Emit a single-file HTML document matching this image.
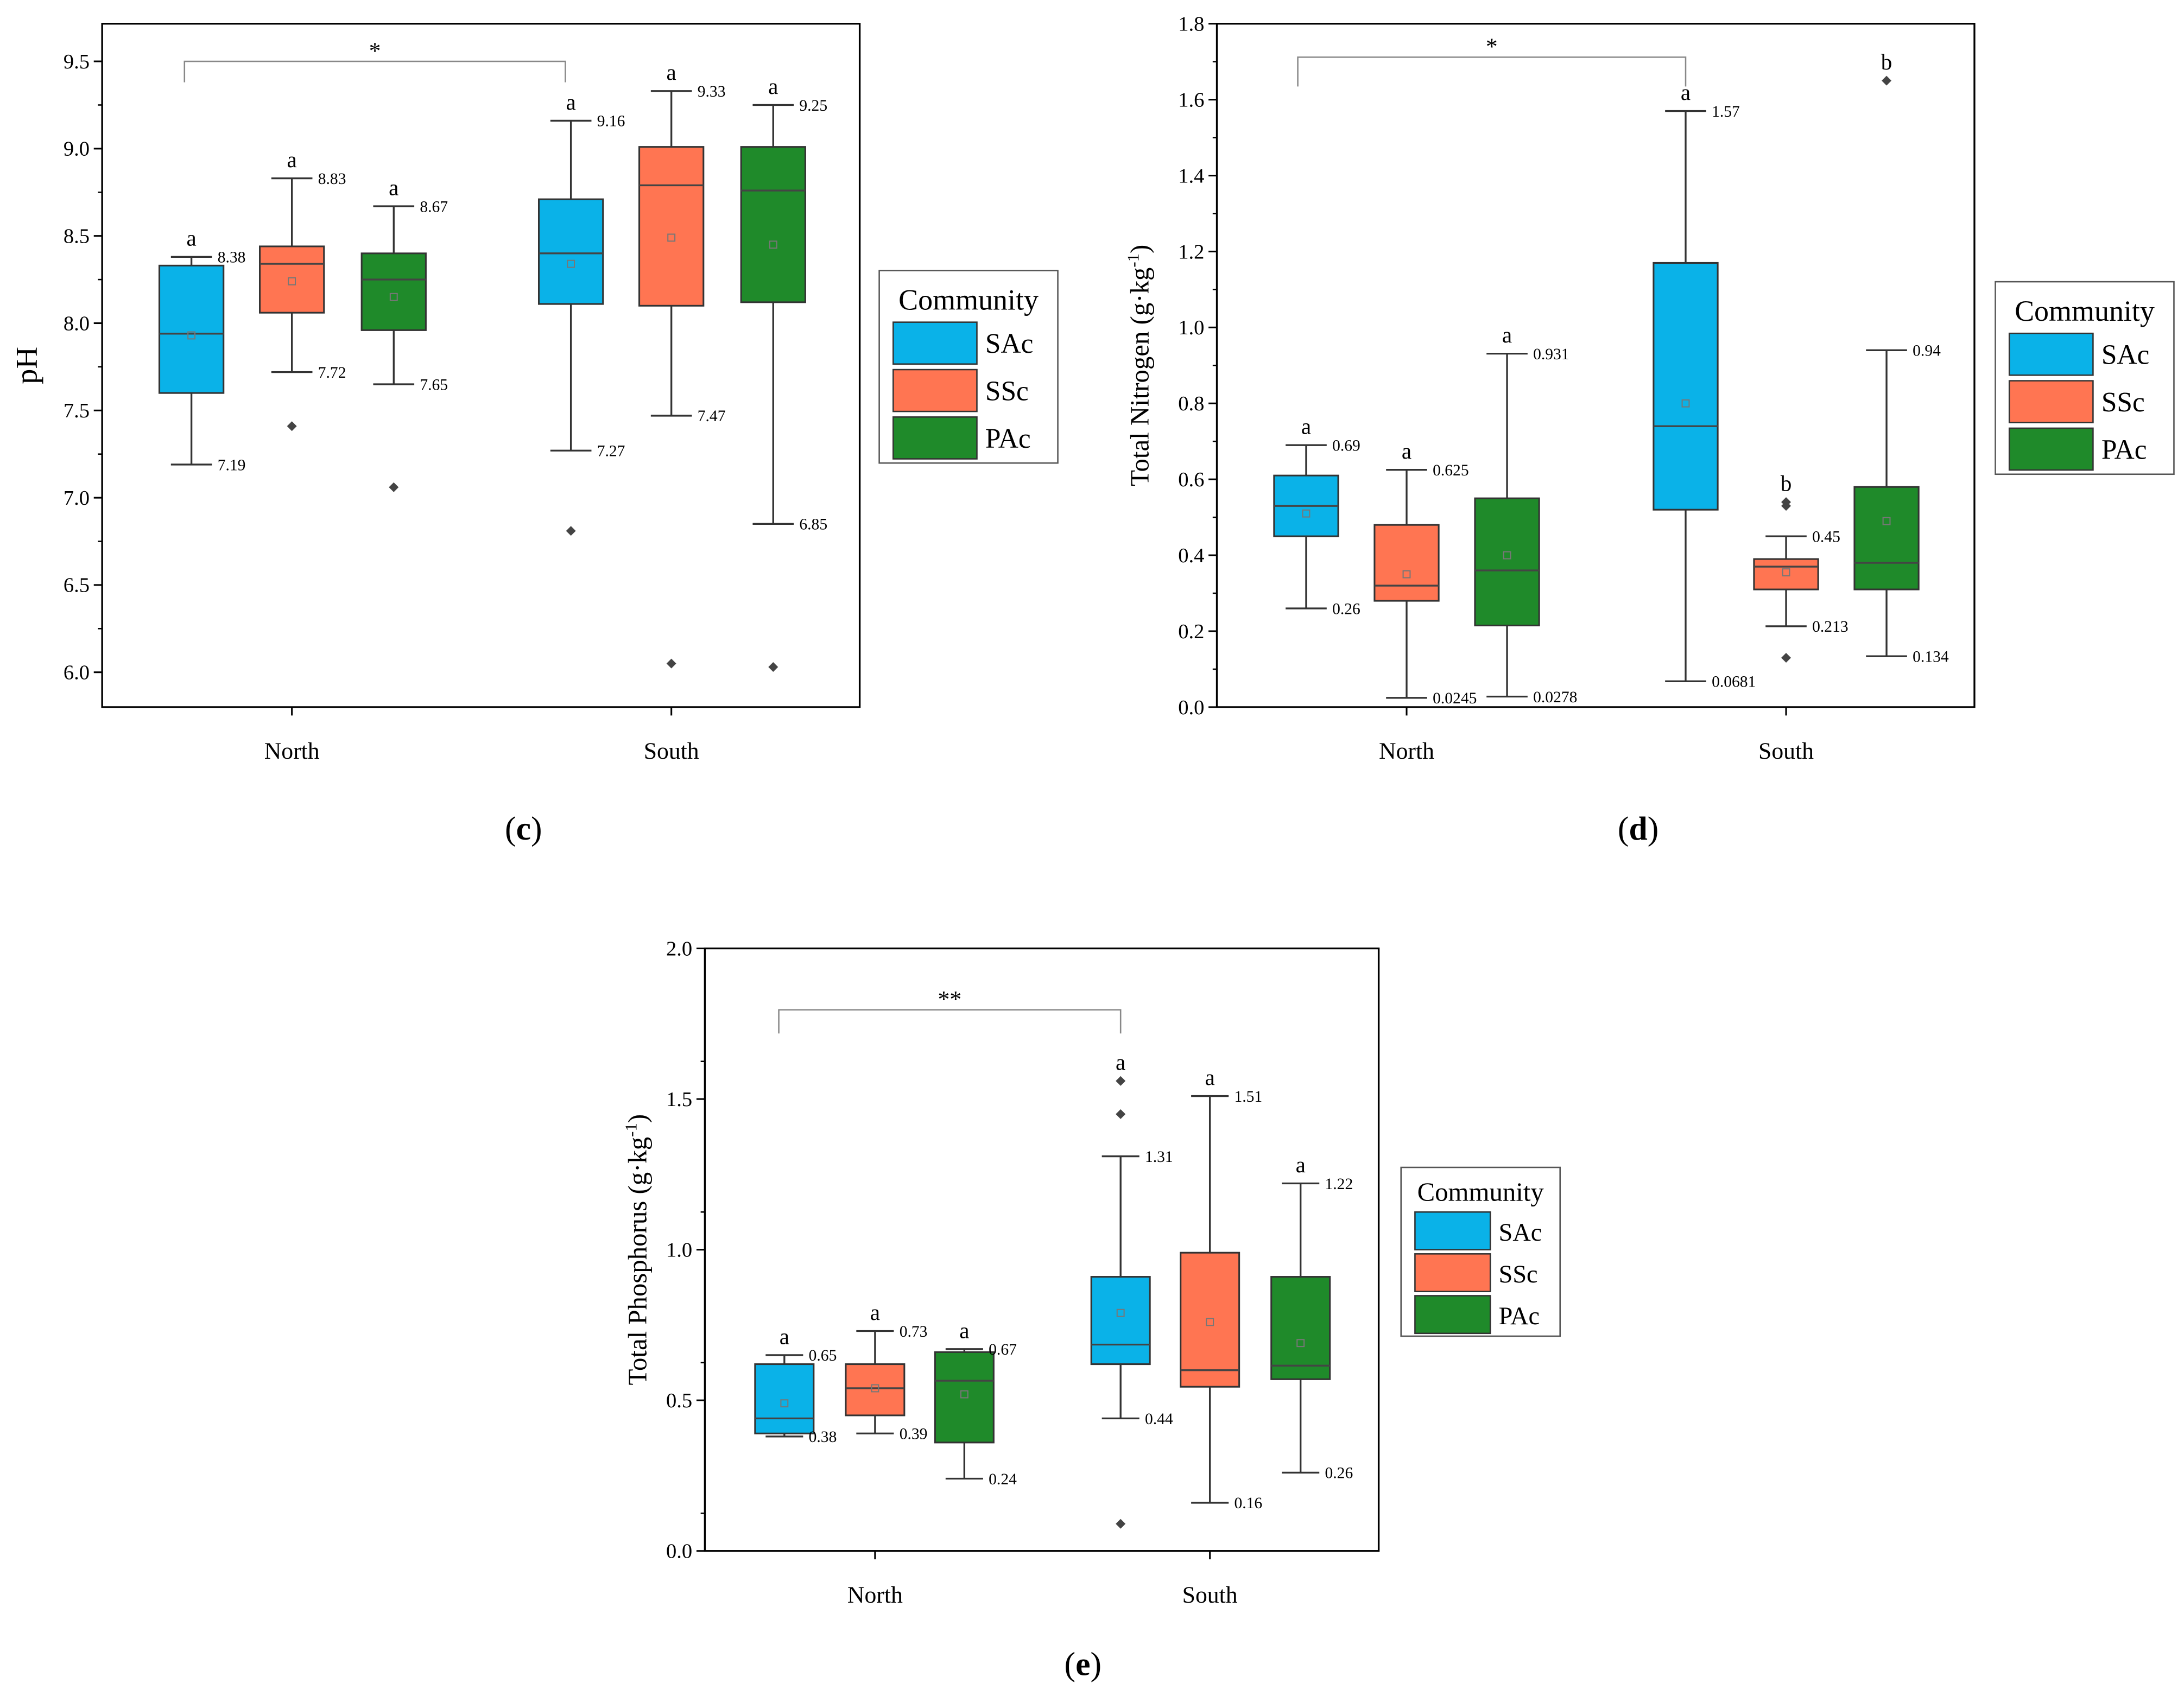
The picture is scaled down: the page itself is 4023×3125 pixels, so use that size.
<!DOCTYPE html>
<html><head><meta charset="utf-8">
<style>
html,body{margin:0;padding:0;background:#fff;}
svg{display:block;font-family:"Liberation Serif",serif;}
</style></head>
<body>
<svg id="root" width="4023" height="3125" viewBox="0 0 1565 1216" xmlns="http://www.w3.org/2000/svg">
<rect width="1565" height="1216" fill="#fff"/>
</svg>
<script>
const groups = ["North","South"];
const communities = ["SAc","SSc","PAc"];
const colors = ["#0AB2E8","#FF7552","#1F8A2A"];

// Panel c: pH  [NorthSAc, NorthSSc, NorthPAc, SouthSAc, SouthSSc, SouthPAc]
const phWhiskLow = [7.19,7.72,7.65,7.27,7.47,6.85];
const phQ1 = [7.60,8.06,7.96,8.11,8.10,8.12];
const phMedian = [7.94,8.34,8.25,8.40,8.79,8.76];
const phQ3 = [8.33,8.44,8.40,8.71,9.01,9.01];
const phWhiskHigh = [8.38,8.83,8.67,9.16,9.33,9.25];
const phMean = [7.93,8.24,8.15,8.34,8.49,8.45];
const phOutliers = [[],[7.41],[7.06],[6.81],[6.05],[6.03]];
const phLowLabels = ["7.19","7.72","7.65","7.27","7.47","6.85"];
const phHighLabels = ["8.38","8.83","8.67","9.16","9.33","9.25"];
const phLetters = ["a","a","a","a","a","a"];
const phTicks = ["6.0","6.5","7.0","7.5","8.0","8.5","9.0","9.5"];

// Panel d: Total Nitrogen
const tnWhiskLow = [0.26,0.0245,0.0278,0.0681,0.213,0.134];
const tnQ1 = [0.45,0.28,0.215,0.52,0.31,0.31];
const tnMedian = [0.53,0.32,0.36,0.74,0.37,0.38];
const tnQ3 = [0.61,0.48,0.55,1.17,0.39,0.58];
const tnWhiskHigh = [0.69,0.625,0.931,1.57,0.45,0.94];
const tnMean = [0.51,0.35,0.40,0.80,0.355,0.49];
const tnOutliers = [[],[],[],[],[0.13,0.53,0.54],[1.65]];
const tnLowLabels = ["0.26","0.0245","0.0278","0.0681","0.213","0.134"];
const tnHighLabels = ["0.69","0.625","0.931","1.57","0.45","0.94"];
const tnLetters = ["a","a","a","a","b","b"];
const tnTicks = ["0.0","0.2","0.4","0.6","0.8","1.0","1.2","1.4","1.6","1.8"];

// Panel e: Total Phosphorus
const tpWhiskLow = [0.38,0.39,0.24,0.44,0.16,0.26];
const tpQ1 = [0.39,0.45,0.36,0.62,0.545,0.57];
const tpMedian = [0.44,0.54,0.565,0.685,0.60,0.615];
const tpQ3 = [0.62,0.62,0.66,0.91,0.99,0.91];
const tpWhiskHigh = [0.65,0.73,0.67,1.31,1.51,1.22];
const tpMean = [0.49,0.54,0.52,0.79,0.76,0.69];
const tpOutliers = [[],[],[],[1.45,1.56,0.09],[],[]];
const tpLowLabels = ["0.38","0.39","0.24","0.44","0.16","0.26"];
const tpHighLabels = ["0.65","0.73","0.67","1.31","1.51","1.22"];
const tpLetters = ["a","a","a","a","a","a"];
const tpTicks = ["0.0","0.5","1.0","1.5","2.0"];

const NS="http://www.w3.org/2000/svg";
const root=document.getElementById('root');
function el(tag,attrs,parent,text){
  const e=document.createElementNS(NS,tag);
  for(const k in attrs) e.setAttribute(k,attrs[k]);
  if(text!==undefined) e.textContent=text;
  (parent||root).appendChild(e);
  return e;
}

function panel(cfg){
  const g=el('g',{});
  
  
  const y=v=>cfg.ya+(v-cfg.vmin)/(cfg.vmax-cfg.vmin)*(cfg.yb-cfg.ya);
  const fr=el('rect',{x:cfg.x0,y:cfg.fy1,width:cfg.x1-cfg.x0,height:cfg.fy0-cfg.fy1,fill:'none',stroke:'#000','stroke-width':1.3},g);
  
  
  cfg.ticks.forEach((t,i)=>{
    const v=parseFloat(t), yy=y(v);
    el('line',{x1:cfg.x0-6,x2:cfg.x0,y1:yy,y2:yy,stroke:'#000','stroke-width':1.2},g);
    const tl=el('text',{x:cfg.x0-9,y:yy+5,'text-anchor':'end','font-size':15},g,t);
    
    
    if(i<cfg.ticks.length-1){
      const ym=y(v+cfg.step/2);
      el('line',{x1:cfg.x0-3,x2:cfg.x0,y1:ym,y2:ym,stroke:'#000','stroke-width':1},g);
    }
  });
  groups.forEach((gn,gi)=>{
    const xc=cfg.groupX[gi];
    el('line',{x1:xc,x2:xc,y1:cfg.fy0,y2:cfg.fy0+6,stroke:'#000','stroke-width':1.2},g);
    const xl=el('text',{x:xc,y:cfg.fy0+37,'text-anchor':'middle','font-size':17},g,gn);
    
    
  });
  const yt=el('text',{x:cfg.ytx,y:cfg.yty,'text-anchor':'middle','font-size':cfg.ytfs||19,transform:`rotate(-90 ${cfg.ytx} ${cfg.yty})`},g);
  yt.innerHTML=cfg.ytitle;
  
  
  const d=cfg.data;
  for(let i=0;i<6;i++){
    const xc=cfg.boxX[i], w=cfg.bw, c=colors[i%3];
    const bg=el('g',{},g);
    
    
    const cap=w*0.32;
    el('line',{x1:xc,x2:xc,y1:y(d.wl[i]),y2:y(d.q1[i]),stroke:'#333','stroke-width':1.3},bg);
    el('line',{x1:xc,x2:xc,y1:y(d.q3[i]),y2:y(d.wh[i]),stroke:'#333','stroke-width':1.3},bg);
    el('line',{x1:xc-cap,x2:xc+cap,y1:y(d.wl[i]),y2:y(d.wl[i]),stroke:'#333','stroke-width':1.3},bg);
    el('line',{x1:xc-cap,x2:xc+cap,y1:y(d.wh[i]),y2:y(d.wh[i]),stroke:'#333','stroke-width':1.3},bg);
    el('rect',{x:xc-w/2,y:y(d.q3[i]),width:w,height:y(d.q1[i])-y(d.q3[i]),fill:c,stroke:'#333','stroke-width':1.2},bg);
    el('line',{x1:xc-w/2,x2:xc+w/2,y1:y(d.med[i]),y2:y(d.med[i]),stroke:'#444','stroke-width':1.3},bg);
    el('rect',{x:xc-2.5,y:y(d.mean[i])-2.5,width:5,height:5,fill:'none',stroke:'#777','stroke-width':0.8},bg);
    d.out[i].forEach(o=>{
      const yy=y(o);
      el('path',{d:`M${xc} ${yy-3.5}L${xc+3.5} ${yy}L${xc} ${yy+3.5}L${xc-3.5} ${yy}Z`,fill:'#444'},bg);
    });
    el('text',{x:xc+cap+4,y:y(d.wh[i])+4,'font-size':11.5},bg,d.hl[i]);
    el('text',{x:xc+cap+4,y:y(d.wl[i])+4,'font-size':11.5},bg,d.ll[i]);
    const topv=Math.max(d.wh[i],...(d.out[i].length?d.out[i]:[-1e9]));
    el('text',{x:xc,y:y(topv)-8,'text-anchor':'middle','font-size':16},bg,d.let[i]);
  }
  const br=el('path',{d:`M${cfg.br[0]} ${cfg.br[2]+cfg.br[3]}V${cfg.br[2]}H${cfg.br[1]}V${cfg.br[2]+cfg.br[3]}`,fill:'none',stroke:'#888','stroke-width':1},g);
  
  
  const st=el('text',{x:(cfg.br[0]+cfg.br[1])/2,y:cfg.br[2]-2,'text-anchor':'middle','font-size':17},g,cfg.star);
  
  
  const L=cfg.leg;
  const lg=el('g',{},g);
  
  
  el('rect',{x:L.x,y:L.y,width:L.w,height:L.h,fill:'#fff',stroke:'#555','stroke-width':1},lg);
  el('text',{x:L.x+L.w/2,y:L.y+L.ty,'text-anchor':'middle','font-size':L.fs},lg,'Community');
  communities.forEach((c,i)=>{
    const ey=L.y+L.ey0+i*L.es;
    const le=el('g',{},lg);
    
    
    el('rect',{x:L.x+10,y:ey,width:L.sw,height:L.sh,fill:colors[i],stroke:'#333','stroke-width':1},le);
    el('text',{x:L.x+16+L.sw,y:ey+L.sh/2+7,'font-size':L.fs-1},le,c);
  });
  const cp=el('text',{x:cfg.cap[0],y:cfg.cap[1],'text-anchor':'middle','font-size':24},g);
  cp.innerHTML='(<tspan font-weight="bold">'+cfg.capL+'</tspan>)';
  
  
}

panel({name:'panel-c-ph',x0:73,x1:616,fy0:507,fy1:17,ya:482,yb:44,vmin:6.0,vmax:9.5,step:0.5,ticks:phTicks,
  data:{wl:phWhiskLow,q1:phQ1,med:phMedian,q3:phQ3,wh:phWhiskHigh,mean:phMean,out:phOutliers,ll:phLowLabels,hl:phHighLabels,let:phLetters},
  groupX:[209,481],boxX:[137,209,282,409,481,554],bw:46,ytx:26,yty:262,ytfs:22,ytitle:'pH',
  br:[132,405,44,15],star:'*',leg:{x:630,y:194,w:128,h:138,ty:28,ey0:37,es:34,sw:60,sh:30,fs:21},cap:[375,602],capL:'c'});
panel({name:'panel-d-nitrogen',x0:872,x1:1415,fy0:507,fy1:17,ya:507,yb:17,vmin:0,vmax:1.8,step:0.2,ticks:tnTicks,
  data:{wl:tnWhiskLow,q1:tnQ1,med:tnMedian,q3:tnQ3,wh:tnWhiskHigh,mean:tnMean,out:tnOutliers,ll:tnLowLabels,hl:tnHighLabels,let:tnLetters},
  groupX:[1008,1280],boxX:[936,1008,1080,1208,1280,1352],bw:46,ytx:823,yty:262,ytitle:'Total Nitrogen (g·kg<tspan dy="-7" font-size="12">-1</tspan><tspan dy="7">)</tspan>',
  br:[930,1208,41,21],star:'*',leg:{x:1430,y:202,w:128,h:138,ty:28,ey0:37,es:34,sw:60,sh:30,fs:21},cap:[1174,602],capL:'d'});
panel({name:'panel-e-phosphorus',x0:505,x1:988,fy0:1112,fy1:680,ya:1112,yb:680,vmin:0,vmax:2.0,step:0.25,ticks:tpTicks,
  data:{wl:tpWhiskLow,q1:tpQ1,med:tpMedian,q3:tpQ3,wh:tpWhiskHigh,mean:tpMean,out:tpOutliers,ll:tpLowLabels,hl:tpHighLabels,let:tpLetters},
  groupX:[627,867],boxX:[562,627,691,803,867,932],bw:42,ytx:463,yty:896,ytitle:'Total Phosphorus (g·kg<tspan dy="-7" font-size="12">-1</tspan><tspan dy="7">)</tspan>',
  br:[558,803,724,17],star:'**',leg:{x:1004,y:837,w:114,h:121,ty:24,ey0:32,es:30,sw:54,sh:27,fs:19},cap:[776,1201],capL:'e'});
</script>
</body></html>
